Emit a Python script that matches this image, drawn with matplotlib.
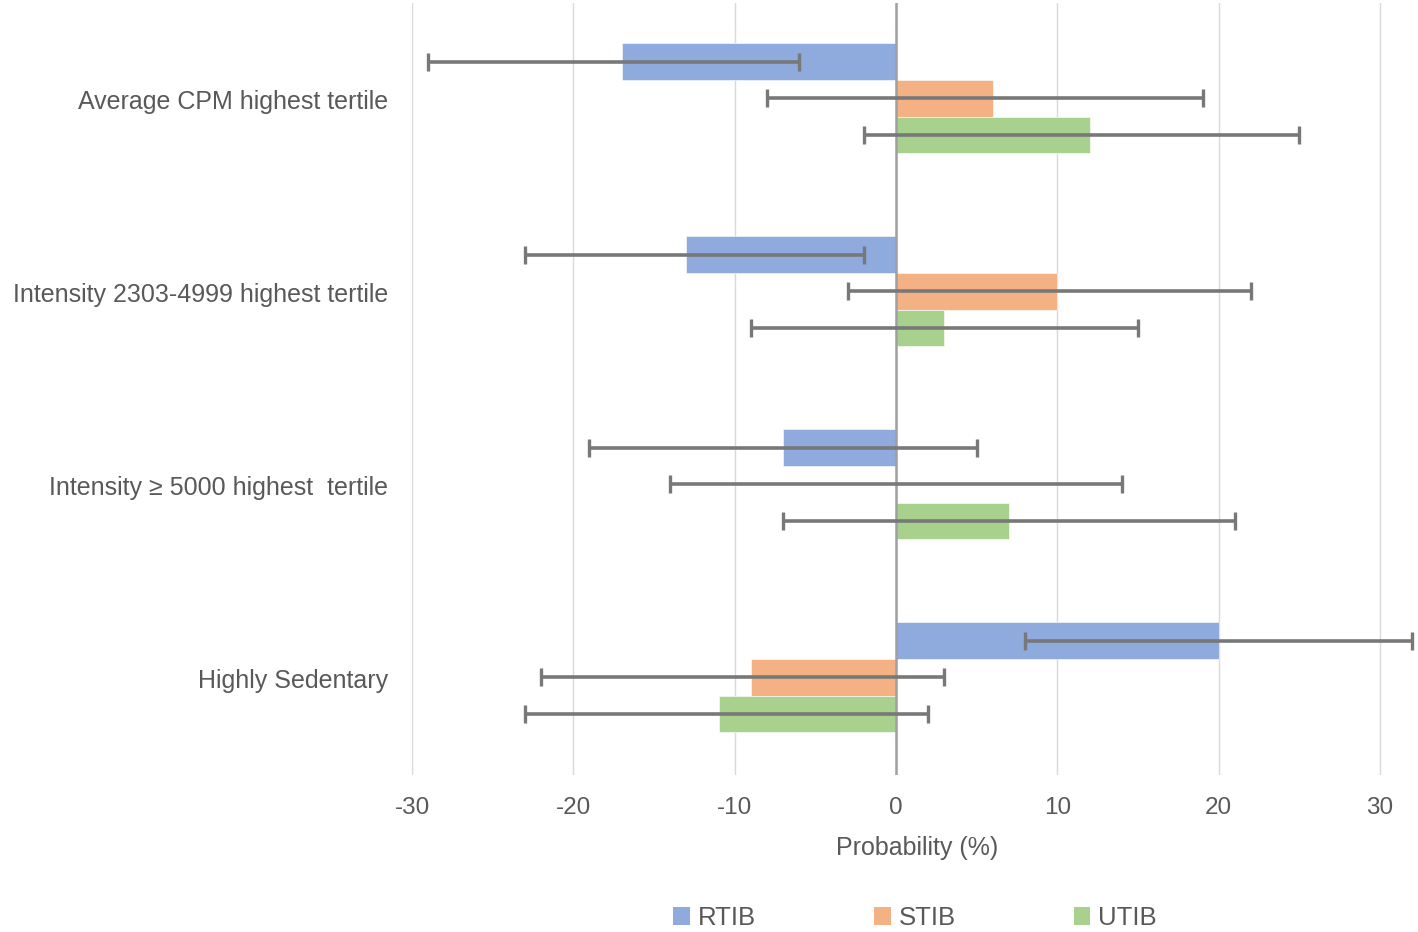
import matplotlib
matplotlib.use("Agg")
import matplotlib.pyplot as plt
from matplotlib.patches import Patch
import numpy as np

categories = ["Average CPM highest tertile",
              "Intensity 2303-4999 highest tertile",
              "Intensity \u2265 5000 highest  tertile",
              "Highly Sedentary"]
series = ["RTIB", "STIB", "UTIB"]
rtib = [-17, -13, -7, 20]
rtib_lo = [-29, -23, -19, 8]
rtib_hi = [-6, -2, 5, 32]
stib = [6, 10, 0, -9]
stib_lo = [-8, -3, -14, -22]
stib_hi = [19, 22, 14, 3]
utib = [12, 3, 7, -11]
utib_lo = [-2, -9, -7, -23]
utib_hi = [25, 15, 21, 2]
xticks = [-30, -20, -10, 0, 10, 20, 30]

colors = ["#8FAADC", "#F4B183", "#A9D18E"]
plt.rcParams['font.family'] = ['Liberation Sans', 'DejaVu Sans']

fig = plt.figure(figsize=(14.18, 9.32), dpi=100)
ax = fig.add_axes([412/1418, 1-775/932, (1414-412)/1418, 772/932])

y = np.arange(len(categories))
h = 0.19
vals = [rtib, stib, utib]
los = [rtib_lo, stib_lo, utib_lo]
his = [rtib_hi, stib_hi, utib_hi]
for i, (v, lo, hi) in enumerate(zip(vals, los, his)):
    yy = y + (i - 1) * h - 0.006
    v = np.array(v); lo = np.array(lo); hi = np.array(hi)
    ax.barh(yy, v, height=h, color=colors[i], edgecolor='white', linewidth=0.4, zorder=2)
    ax.errorbar(v, yy, xerr=[v - lo, hi - v], fmt='none', ecolor='#787878',
                elinewidth=2.6, capsize=6.5, capthick=2.4, zorder=4, clip_on=False)

ax.axvline(0, color='#A0A0A0', linewidth=1.8, zorder=3)
ax.set_xlim(-30, 32.1)
ax.set_ylim(3.5, -0.5)
ax.set_xticks(xticks)
ax.set_xticklabels([str(t) for t in xticks])
ax.grid(axis='x', color='#D9D9D9', linewidth=1.0, zorder=0)
ax.set_axisbelow(True)
for s in ax.spines.values():
    s.set_visible(False)
ax.tick_params(axis='x', length=0, labelsize=17.5, colors='#595959', pad=16)
ax.tick_params(axis='y', length=0, labelsize=18, colors='#595959', pad=17)
ax.set_yticks(y)
ax.set_yticklabels(categories)
ax.set_xlabel("Probability (%)", fontsize=18, color='#595959')
ax.xaxis.set_label_coords((917-412)/(1414-412), -(836-775)/772)

handles = [Patch(facecolor=c, edgecolor='none') for c in colors]
fig.legend(handles, series, loc='center', bbox_to_anchor=(915/1418, 1-918/932), ncol=3,
           frameon=False, fontsize=18.5, handlelength=0.65, handleheight=0.7,
           handletextpad=0.3, columnspacing=4.6, labelcolor='#595959')

fig.savefig("out.png", dpi=100)
